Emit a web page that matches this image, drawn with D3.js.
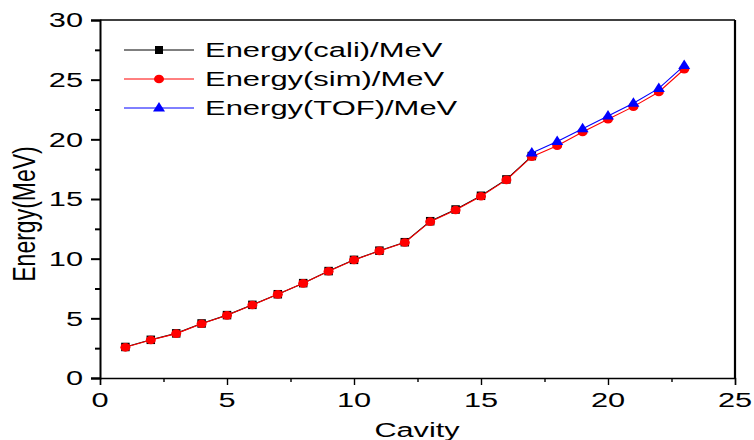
<!DOCTYPE html>
<html><head><meta charset="utf-8">
<script src="https://cdn.jsdelivr.net/npm/d3@7"></script>
<style>html,body{margin:0;padding:0;background:#fff;}text{font-family:"Liberation Sans",Arial,sans-serif;fill:#000;}</style>
</head><body><svg id="c" width="754" height="440"></svg>
<script>
const cavity = d3.range(1, 24);
const energySim = [2.57, 3.18, 3.72, 4.55, 5.25, 6.12, 7.01, 7.93, 8.94, 9.89, 10.65, 11.36, 13.1, 14.08, 15.23, 16.6, 18.55, 19.47, 20.62, 21.68, 22.74, 23.97, 25.87];
const cavityCali = d3.range(1, 18);
const energyCali = [2.6, 3.2, 3.74, 4.57, 5.27, 6.13, 7.02, 7.95, 8.96, 9.9, 10.67, 11.38, 13.14, 14.12, 15.27, 16.64, 18.6];
const cavityTOF = [17, 18, 19, 20, 21, 22, 23];
const energyTOF = [18.85, 19.82, 20.88, 21.95, 23.02, 24.27, 26.18];
const xTicks = [0, 5, 10, 15, 20, 25];
const yTicks = [0, 5, 10, 15, 20, 25, 30];
const legendLabels = ["Energy(cali)/MeV", "Energy(sim)/MeV", "Energy(TOF)/MeV"];

const svg = d3.select("#c");
const L = 100, R = 735, T = 20, B = 378;
const x = d3.scaleLinear().domain([0, 25]).range([L, R]);
const y = d3.scaleLinear().domain([0, 30]).range([B, T]);
const SX = 1.5;

// frame top/right
svg.append("line").attr("x1", L).attr("x2", R).attr("y1", T).attr("y2", T).attr("stroke", "#000").attr("stroke-width", 1.6);
svg.append("line").attr("x1", R).attr("x2", R).attr("y1", T).attr("y2", B).attr("stroke", "#000").attr("stroke-width", 2.2);

// axes
const minorX = d3.range(2.5, 25, 5);
const minorY = d3.range(2.5, 30, 5);
function styleAxis(g, w) { g.select(".domain").attr("stroke-width", w); g.selectAll(".tick line").attr("stroke-width", w); g.selectAll("text").remove(); }
svg.append("g").attr("transform", `translate(0,${B})`).call(d3.axisBottom(x).tickValues(xTicks).tickSizeOuter(0).tickSize(7)).call(g => styleAxis(g, 1.4));
svg.append("g").attr("transform", `translate(0,${B})`).call(d3.axisBottom(x).tickValues(minorX).tickSizeOuter(0).tickSize(4)).call(g => { styleAxis(g, 1.4); g.select(".domain").remove(); });
svg.append("g").attr("transform", `translate(${L},0)`).call(d3.axisLeft(y).tickValues(yTicks).tickSizeOuter(0).tickSize(9)).call(g => styleAxis(g, 2));
svg.append("g").attr("transform", `translate(${L},0)`).call(d3.axisLeft(y).tickValues(minorY).tickSizeOuter(0).tickSize(5)).call(g => { styleAxis(g, 2); g.select(".domain").remove(); });

// tick labels
svg.append("g").selectAll("g").data(xTicks).join("g")
  .attr("transform", d => `translate(${x(d)},407) scale(${SX},1)`)
  .append("text").attr("text-anchor", "middle").attr("font-size", 20.5).text(d => d);
svg.append("g").selectAll("g").data(yTicks).join("g")
  .attr("transform", d => `translate(83,${y(d)}) scale(${SX},1)`)
  .append("text").attr("text-anchor", "end").attr("dy", "0.36em").attr("font-size", 20.5).text(d => d);

// axis titles
svg.append("g").attr("transform", `translate(417,437) scale(1.46,1)`)
  .append("text").attr("text-anchor", "middle").attr("font-size", 21).text("Cavity");
svg.append("g").attr("transform", `translate(35,214) scale(1.4,1) rotate(-90)`)
  .append("text").attr("text-anchor", "middle").attr("font-size", 23).text("Energy(MeV)");

// series
const line = d3.line().x(d => x(d[0])).y(d => y(d[1]));
const cali = cavityCali.map((c, i) => [c, energyCali[i]]);
const sim = cavity.map((c, i) => [c, energySim[i]]);
const tof = cavityTOF.map((c, i) => [c, energyTOF[i]]);

function drawSquare(g, sz) { g.append("rect").attr("x", -sz / 2).attr("y", -sz / 2).attr("width", sz).attr("height", sz).attr("fill", "#000"); }
function drawCircle(g) { g.append("ellipse").attr("rx", 5).attr("ry", 4.3).attr("fill", "#ff0000"); }
function drawTri(g) { g.append("path").attr("d", "M0,-6 L6,3.5 L-6,3.5 Z").attr("fill", "#0000ff"); }

svg.append("path").datum(cali).attr("d", line).attr("fill", "none").attr("stroke", "#000").attr("stroke-width", 1.1);
svg.append("g").selectAll("g").data(cali).join("g").attr("transform", d => `translate(${x(d[0])},${y(d[1])})`).each(function () { drawSquare(d3.select(this), 8.5); });
svg.append("path").datum(sim).attr("d", line).attr("fill", "none").attr("stroke", "#ff0000").attr("stroke-width", 1.1);
svg.append("g").selectAll("g").data(sim).join("g").attr("transform", d => `translate(${x(d[0])},${y(d[1])})`).each(function () { drawCircle(d3.select(this)); });
svg.append("path").datum(tof).attr("d", line).attr("fill", "none").attr("stroke", "#0000ff").attr("stroke-width", 1.1);
svg.append("g").selectAll("g").data(tof).join("g").attr("transform", d => `translate(${x(d[0])},${y(d[1])})`).each(function () { drawTri(d3.select(this)); });

// legend
const legY = d3.scalePoint().domain(legendLabels).range([50, 108]);
const legColors = ["#000", "#ff0000", "#0000ff"];
legendLabels.forEach((lab, i) => {
  const yy = legY(lab);
  svg.append("line").attr("x1", 124).attr("x2", 194).attr("y1", yy).attr("y2", yy).attr("stroke", legColors[i]).attr("stroke-width", 1);
  const g = svg.append("g").attr("transform", `translate(159,${yy})`);
  if (i === 0) drawSquare(g, 8); else if (i === 1) drawCircle(g); else drawTri(g);
  svg.append("g").attr("transform", `translate(205,${yy}) scale(1.51,1)`)
    .append("text").attr("dy", "0.36em").attr("font-size", 20.5).text(lab);
});
</script></body></html>
